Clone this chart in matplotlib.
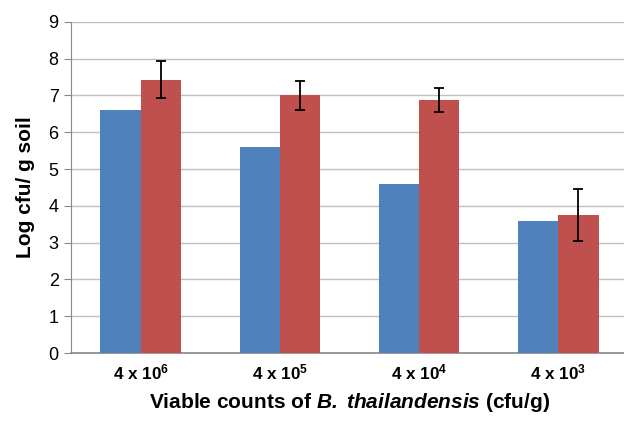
import matplotlib
matplotlib.use("Agg")
import matplotlib.pyplot as plt
import numpy as np

categories = ["4 x 10$^{6}$", "4 x 10$^{5}$", "4 x 10$^{4}$", "4 x 10$^{3}$"]
blueValues = [6.6, 5.6, 4.6, 3.6]
redValues = [7.43, 7.0, 6.88, 3.75]
redErrors = [0.5, 0.4, 0.32, 0.71]

plt.rcParams['font.family'] = ['Liberation Sans', 'DejaVu Sans']
plt.rcParams['mathtext.fontset'] = 'custom'
plt.rcParams['mathtext.rm'] = 'Liberation Sans:bold'
plt.rcParams['mathtext.bf'] = 'Liberation Sans:bold'
plt.rcParams['mathtext.it'] = 'Liberation Sans:italic'
plt.rcParams['mathtext.bfit'] = 'Liberation Sans:bold:italic'

fig = plt.figure(figsize=(6.24, 4.21), dpi=100)
ax = fig.add_axes([0.114, 0.1615, 0.892, 0.7865])

x = np.arange(len(categories))
width = 0.29

ax.bar(x - width/2, blueValues, width, color="#4F81BD", zorder=3)
ax.bar(x + width/2, redValues, width, color="#C0504D", zorder=3,
       yerr=redErrors, error_kw=dict(ecolor="black", elinewidth=1.3, capsize=3.5, capthick=1.3))

ax.set_xlim(-0.5, 3.5)
ax.set_ylim(0, 9)
ax.set_yticks(range(0, 10))
ax.yaxis.grid(True, color="#BFBFBF", linewidth=1, zorder=0)
ax.set_axisbelow(True)

for side in ["top", "right"]:
    ax.spines[side].set_visible(False)
ax.spines["left"].set_color("#888888")
ax.spines["bottom"].set_color("#888888")
ax.spines["bottom"].set_linewidth(1.2)

ax.set_xticks(x)
ax.set_xticklabels(categories, fontsize=12.3, fontweight="bold")
ax.tick_params(axis="x", length=0, pad=7)
ax.tick_params(axis="y", length=5, color="#888888", labelsize=13, pad=4)

ax.set_ylabel("Log cfu/ g soil", fontsize=15, fontweight="bold", labelpad=10)
ax.set_xlabel("Viable counts of $\\bfit{B.\\ thailandensis}$ (cfu/g)", fontsize=15, fontweight="bold", labelpad=6)

fig.savefig("out.png", dpi=100)
